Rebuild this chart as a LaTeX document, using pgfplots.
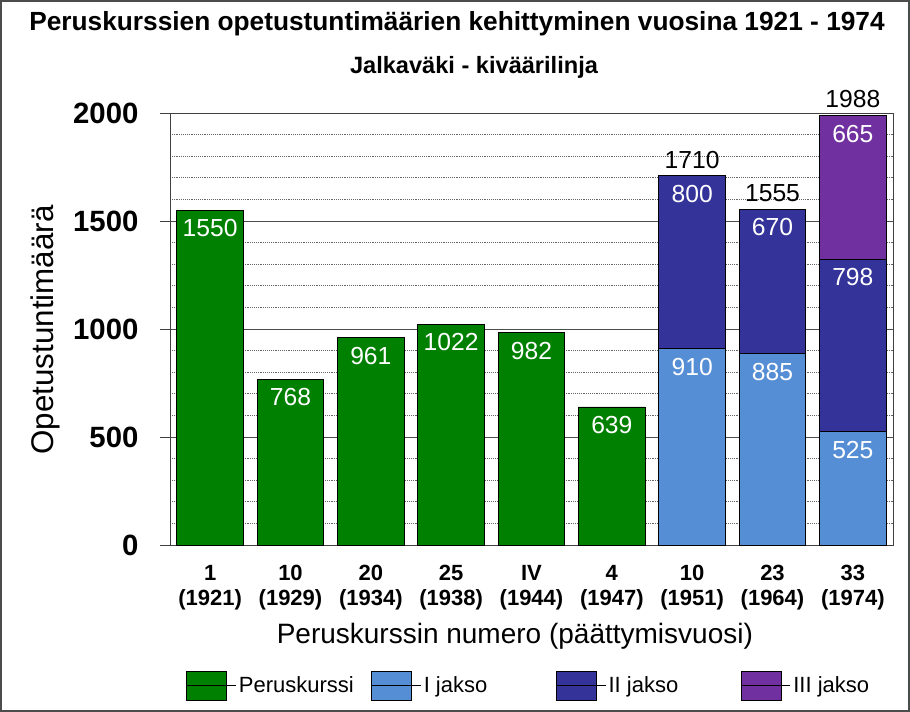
\documentclass[border=0pt]{standalone}
\usepackage{fontspec}
\setmainfont{Liberation Sans}
\usepackage{pgfplots}
\usepackage{pgfplotstable}
\pgfplotsset{compat=1.18}
\definecolor{cPer}{RGB}{0,128,0}
\definecolor{cI}{RGB}{85,142,213}
\definecolor{cII}{RGB}{51,51,153}
\definecolor{cIII}{RGB}{112,48,160}

\pgfplotstableread{
x y lab
0 1550 1550
1 768 768
2 961 961
3 1022 1022
4 982 982
5 639 639
6 0 {}
7 0 {}
8 0 {}
}\peru
\pgfplotstableread{
x y lab
0 0 {}
1 0 {}
2 0 {}
3 0 {}
4 0 {}
5 0 {}
6 910 910
7 885 885
8 525 525
}\jI
\pgfplotstableread{
x y lab
0 0 {}
1 0 {}
2 0 {}
3 0 {}
4 0 {}
5 0 {}
6 800 800
7 670 670
8 798 798
}\jII
\pgfplotstableread{
x y lab
0 0 {}
1 0 {}
2 0 {}
3 0 {}
4 0 {}
5 0 {}
6 0 {}
7 0 {}
8 665 665
}\jIII
\pgfplotstableread{
x y lab
6 1710 1710
7 1555 1555
8 1988 1988
}\tot

\pgfplotsset{
  mylegend/.style={legend image code/.code={%
    \draw[##1, draw=black, line width=0.6pt] (0pt,-11pt) rectangle (30pt,11pt);
    \path (0pt,0pt) -- (37pt,0pt);}},
  seg/.style={draw=black, line width=0.6pt, fill=#1, mylegend,
    point meta=explicit symbolic,
    visualization depends on={rawy \as \segval},
    nodes near coords={\pgfplotspointmeta},
    every node near coord/.style={anchor=north, text=white,
      yshift={0.081pt*\segval-3.5pt},
      font=\fontsize{18.5}{22}\selectfont}},
  samegeom/.style={at={(127.5pt,125.25pt)}, anchor=south west,
    scale only axis, width=542.25pt, height=324pt,
    xmin=-0.5, xmax=8.5, ymin=0, ymax=2000, clip=false},
}

\begin{document}
\begin{tikzpicture}
\useasboundingbox (0,0) rectangle (682.5pt,534pt);
\draw[line width=1.5pt, black!70] (0.75pt,0.75pt) rectangle (681.75pt,533.25pt);
\node[anchor=base, font=\bfseries\fontsize{19.7}{23}\selectfont] at (342.75pt,510.75pt)
  {Peruskurssien opetustuntimäärien kehittyminen vuosina 1921 - 1974};
\node[anchor=base, font=\bfseries\fontsize{17.7}{21}\selectfont] at (355.5pt,478.5pt)
  {Jalkaväki - kiväärilinja};
\begin{axis}[
  samegeom,
  ybar stacked, bar width=0.83,
  enlarge x limits=false,
  axis line style={black!75, line width=0.6pt},
  xtick={0,...,8},
  xticklabels={{1\\(1921)},{10\\(1929)},{20\\(1934)},{25\\(1938)},{IV\\(1944)},{4\\(1947)},{10\\(1951)},{23\\(1964)},{33\\(1974)}},
  xticklabel style={align=center, anchor=north, inner sep=0pt, yshift=-7.5pt,
    font=\bfseries\fontsize{16.5}{18.5}\selectfont},
  xtick style={draw=none},
  ytick={0,500,...,2000},
  minor y tick num=4,
  ytick pos=left,
  tick align=outside,
  major tick length=7.5pt,
  minor tick length=0pt,
  ytick style={black!75, line width=0.6pt},
  /pgf/number format/1000 sep={},
  /pgf/number format/assume math mode=true,
  yticklabel style={anchor=east, inner sep=0pt, xshift=-16pt,
    font=\bfseries\fontsize{22}{26}\selectfont},
  ymajorgrids, yminorgrids,
  major grid style={black!70, line width=0.6pt},
  minor grid style={black!60, densely dotted, line width=0.6pt},
  ylabel={Opetustuntimäärä},
  ylabel style={at={(axis description cs:-0.173,0.498)}, anchor=center, rotate=0,
    font=\fontsize{23.5}{28}\selectfont},
  xlabel={Peruskurssin numero (päättymisvuosi)},
  xlabel style={at={(axis description cs:0.477,-0.211)}, anchor=center,
    font=\fontsize{21}{25}\selectfont},
  legend columns=4,
  legend style={at={(axis description cs:0.022,-0.326)}, anchor=west,
    draw=none, fill=none, inner sep=0pt, column sep=0pt,
    font=\fontsize{16.5}{19}\selectfont},
]
\addplot[seg=cPer] table[x=x,y=y,meta=lab] {\peru};
\addlegendentry{\makebox[97pt][l]{Peruskurssi}}
\addplot[seg=cI] table[x=x,y=y,meta=lab] {\jI};
\addlegendentry{\makebox[97pt][l]{I jakso}}
\addplot[seg=cII] table[x=x,y=y,meta=lab] {\jII};
\addlegendentry{\makebox[97pt][l]{II jakso}}
\addplot[seg=cIII] table[x=x,y=y,meta=lab] {\jIII};
\addlegendentry{III jakso}
\end{axis}
\begin{axis}[samegeom, hide axis]
\addplot[draw=none, mark=none,
  point meta=explicit symbolic,
  nodes near coords={\pgfplotspointmeta},
  every node near coord/.style={anchor=south, text=black, yshift=2pt,
    font=\fontsize{18.5}{22}\selectfont}] table[x=x,y=y,meta=lab] {\tot};
\end{axis}
\end{tikzpicture}
\end{document}
